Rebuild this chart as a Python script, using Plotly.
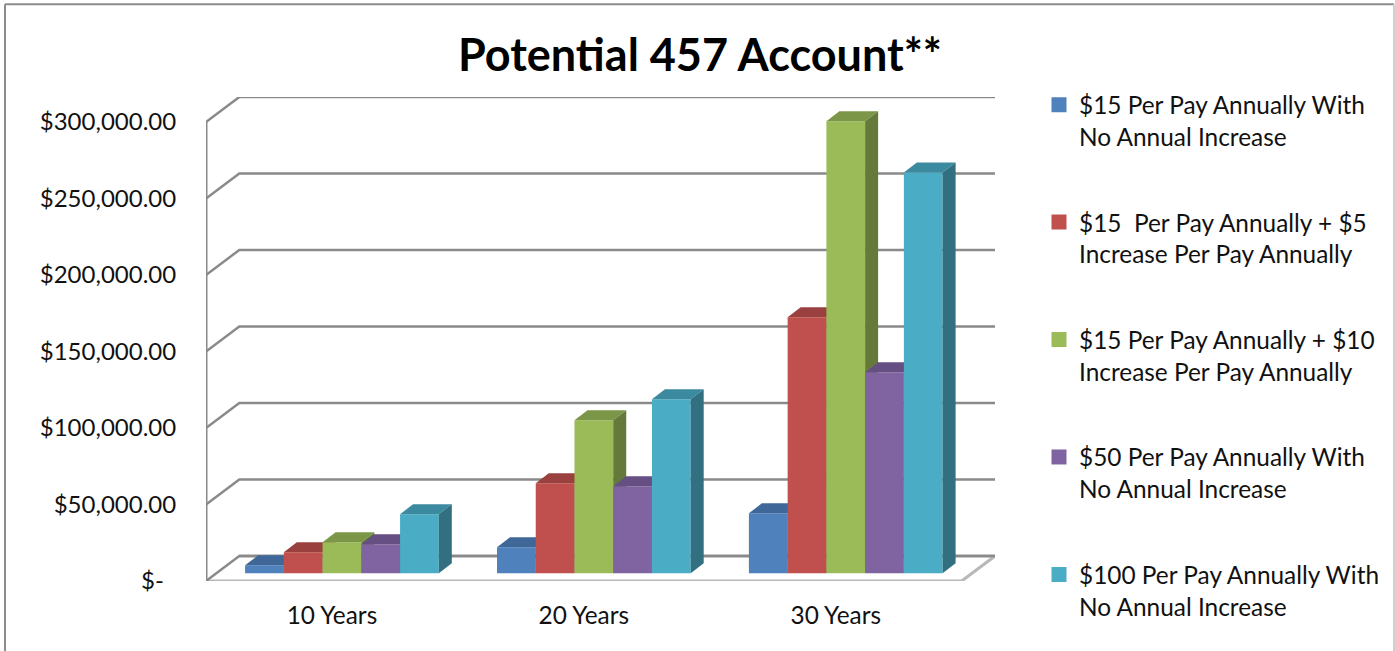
import plotly.graph_objects as go

categories = ["10 Years", "20 Years", "30 Years"]
series_names = [
    "$15 Per Pay Annually With<br>No Annual Increase",
    "$15  Per Pay Annually + $5<br>Increase Per Pay Annually",
    "$15 Per Pay Annually + $10<br>Increase Per Pay Annually",
    "$50 Per Pay Annually With<br>No Annual Increase",
    "$100 Per Pay Annually With<br>No Annual Increase",
]
flat_15 = [5200, 17000, 39200]
plus_5 = [13700, 58800, 167300]
plus_10 = [20300, 100000, 295400]
flat_50 = [19000, 56900, 131400]
flat_100 = [38600, 113700, 262000]
series_values = [flat_15, plus_5, plus_10, flat_50, flat_100]

tick_values = [0, 50000, 100000, 150000, 200000, 250000, 300000]
tick_labels = ["$-\u00a0\u00a0", "$50,000.00", "$100,000.00", "$150,000.00",
               "$200,000.00", "$250,000.00", "$300,000.00"]

front_colors = ["#4F81BD", "#C0504D", "#9BBB59", "#8064A2", "#4BACC6"]
top_colors = ["#3F6797", "#9A403E", "#7C9647", "#664F82", "#3C8A9F"]
side_colors = ["#33547B", "#7D3432", "#657A3A", "#534169", "#316F81"]

WIDTH, HEIGHT = 1395, 651
LEFT, RIGHT, TOP, BOTTOM = 206.0, 995.0, 96.7, 580.7
FRONT_RIGHT = 961.7
FRONT_TOP = 121.7

# Pixels per axis unit, used to express the oblique projection in data units.
px_per_cat = (FRONT_RIGHT - LEFT) / len(categories)
px_per_dollar = (BOTTOM - FRONT_TOP) / tick_values[-1]
x_max = (RIGHT - LEFT) / px_per_cat
y_max = (BOTTOM - TOP) / px_per_dollar

wall_dx = (RIGHT - FRONT_RIGHT) / px_per_cat
wall_dy = (BOTTOM - 555.7) / px_per_dollar
bar_shift_x = 10.0 / px_per_cat
bar_base = 7.7 / px_per_dollar
bar_dx = 13.0 / px_per_cat
bar_dy = 10.0 / px_per_dollar
bar_width = 38.74 / px_per_cat
n_series = len(series_values)

GRID = "#8A8A8A"
FLOOR_EDGE = "#B8B8B8"
FONT = "Lato, Carlito, Calibri, sans-serif"
TEXT_SIZE = 24.4

fig = go.Figure()

# Back wall gridlines: each runs up the left wall and along the back plane.
for tick in tick_values[1:]:
    fig.add_trace(go.Scatter(
        x=[0, wall_dx, x_max], y=[tick, tick + wall_dy, tick + wall_dy],
        mode="lines", line=dict(color=GRID, width=2.5), showlegend=False, hoverinfo="skip"))

# Floor outline and left wall edge.
fig.add_trace(go.Scatter(
    x=[wall_dx, x_max, x_max - wall_dx, 0], y=[wall_dy, wall_dy, 0, 0],
    mode="lines", line=dict(color=FLOOR_EDGE, width=3), showlegend=False, hoverinfo="skip"))
fig.add_trace(go.Scatter(
    x=[0, wall_dx, x_max], y=[0, wall_dy, wall_dy],
    mode="lines", line=dict(color=GRID, width=2.5), showlegend=False, hoverinfo="skip"))
fig.add_trace(go.Scatter(
    x=[0, 0], y=[0, tick_values[-1]],
    mode="lines", line=dict(color=GRID, width=3), showlegend=False, hoverinfo="skip"))

# Each series sits on its own overlaying axis pair, so a bar's front face
# paints over the side face of the series to its left.
for s, (name, values) in enumerate(zip(series_names, series_values)):
    xa, ya = f"x{s + 2}", f"y{s + 2}"
    lefts = [c + 0.5 + bar_shift_x + (s - n_series / 2) * bar_width for c in range(len(categories))]
    fig.add_trace(go.Bar(
        x=[l + bar_width / 2 for l in lefts], y=values, base=bar_base, width=bar_width,
        marker=dict(color=front_colors[s], line=dict(width=0)),
        showlegend=False, xaxis=xa, yaxis=ya,
        name=name.replace("<br>", " ")))
    for l, v in zip(lefts, values):
        r = l + bar_width
        t = bar_base + v
        fig.add_trace(go.Scatter(
            x=[l, l + bar_dx, r + bar_dx, r, l],
            y=[t, t + bar_dy, t + bar_dy, t, t],
            mode="lines", line=dict(width=0), fill="toself", fillcolor=top_colors[s],
            showlegend=False, hoverinfo="skip", xaxis=xa, yaxis=ya))
        fig.add_trace(go.Scatter(
            x=[r, r + bar_dx, r + bar_dx, r, r],
            y=[t, t + bar_dy, bar_base + bar_dy, bar_base, t],
            mode="lines", line=dict(width=0), fill="toself", fillcolor=side_colors[s],
            showlegend=False, hoverinfo="skip", xaxis=xa, yaxis=ya))

# Legend entries with square swatches.
for s, name in enumerate(series_names):
    fig.add_trace(go.Scatter(
        x=[None], y=[None], mode="markers", name=name, legendgroup=f"g{s}",
        marker=dict(symbol="square", size=15, color=front_colors[s])))


def px_x(p):
    return (p - LEFT) / (RIGHT - LEFT)


def px_y(p):
    return (BOTTOM - p) / (BOTTOM - TOP)


border = [(5, 4, 1394, 4, "#8C8C8C"), (5, 4, 5, HEIGHT, "#8C8C8C"), (1394, 4, 1394, HEIGHT, "#CFCFCF")]
shapes = [dict(type="line", xref="paper", yref="paper", x0=px_x(a), y0=px_y(b), x1=px_x(c), y1=px_y(d),
               line=dict(color=col, width=2)) for a, b, c, d, col in border]

layout = dict(
    width=WIDTH, height=HEIGHT,
    margin=dict(l=LEFT, r=WIDTH - RIGHT, t=TOP, b=HEIGHT - BOTTOM, autoexpand=False),
    paper_bgcolor="white", plot_bgcolor="white",
    font=dict(family=FONT, size=TEXT_SIZE, color="#111111"),
    barmode="overlay",
    shapes=shapes,
    title=dict(text="<b>Potential 457 Account**</b>", x=700 / WIDTH, xref="container", xanchor="center",
               y=1 - 55 / HEIGHT, yref="container", yanchor="middle",
               font=dict(family=FONT, size=45, color="#000000")),
    xaxis=dict(range=[0, x_max], tickvals=[c + 0.5 for c in range(len(categories))], ticktext=categories,
               ticks="outside", ticklen=13, tickcolor="rgba(0,0,0,0)", showgrid=False, zeroline=False,
               showline=False, fixedrange=True),
    yaxis=dict(range=[0, y_max], tickvals=tick_values, ticktext=tick_labels, tickfont=dict(size=24),
               ticks="outside", ticklen=24, tickcolor="rgba(0,0,0,0)", showgrid=False, zeroline=False,
               showline=False, fixedrange=True),
    legend=dict(x=px_x(1039), xanchor="left", y=px_y(82), yanchor="top", tracegroupgap=51, valign="top",
                maxheight=600, font=dict(family=FONT, size=TEXT_SIZE, color="#111111"),
                bgcolor="rgba(0,0,0,0)", traceorder="grouped"),
)
for s in range(n_series):
    layout[f"xaxis{s + 2}"] = dict(range=[0, x_max], overlaying="x", visible=False, fixedrange=True)
    layout[f"yaxis{s + 2}"] = dict(range=[0, y_max], overlaying="y", visible=False, fixedrange=True)
fig.update_layout(**layout)

fig.write_html("out.html")
